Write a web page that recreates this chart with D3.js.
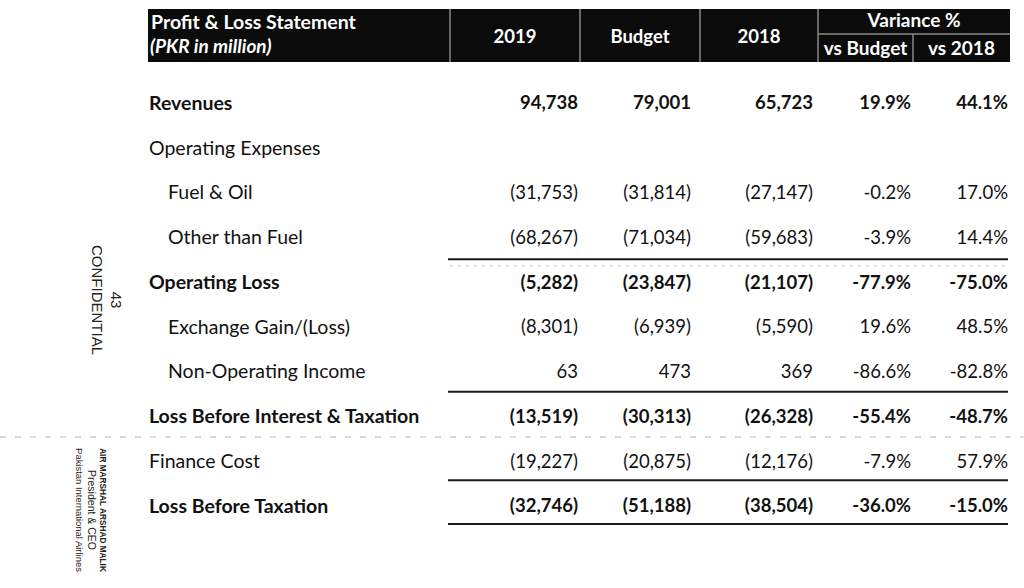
<!DOCTYPE html>
<html>
<head>
<meta charset="utf-8">
<script src="https://cdn.jsdelivr.net/npm/d3@7"></script>
<style>
  html, body { margin: 0; padding: 0; background: #fff; }
  svg { display: block; }
</style>
</head>
<body>
<svg id="chart" width="1024" height="588"></svg>
<script>
// ---- data ----
const categories = ["Revenues", "Operating Expenses", "Fuel & Oil", "Other than Fuel", "Operating Loss",
  "Exchange Gain/(Loss)", "Non-Operating Income", "Loss Before Interest & Taxation", "Finance Cost", "Loss Before Taxation"];
const boldRows = ["Revenues", "Operating Loss", "Loss Before Interest & Taxation", "Loss Before Taxation"];
const indentedRows = ["Fuel & Oil", "Other than Fuel", "Exchange Gain/(Loss)", "Non-Operating Income"];
const values2019 = [94738, null, -31753, -68267, -5282, -8301, 63, -13519, -19227, -32746];
const valuesBudget = [79001, null, -31814, -71034, -23847, -6939, 473, -30313, -20875, -51188];
const values2018 = [65723, null, -27147, -59683, -21107, -5590, 369, -26328, -12176, -38504];
const varVsBudget = [19.9, null, -0.2, -3.9, -77.9, 19.6, -86.6, -55.4, -7.9, -36.0];
const varVs2018 = [44.1, null, 17.0, 14.4, -75.0, 48.5, -82.8, -48.7, 57.9, -15.0];
const columnKeys = ["2019", "Budget", "2018", "vs Budget", "vs 2018"];
const headerTitle = ["Profit & Loss Statement", "(PKR in million)"];
const varianceTitle = "Variance %";
const ruledBelow = ["Other than Fuel", "Non-Operating Income", "Finance Cost", "Loss Before Taxation"];
const marginTop = ["43", "CONFIDENTIAL"];
const marginSign = ["AIR MARSHAL ARSHAD MALIK", "President & CEO", "Pakistan International Airlines"];

// ---- layout ----
const svg = d3.select("#chart");
const font = "Lato, 'Open Sans', sans-serif";
const tableLeft = 148, tableRight = 1010;
const colEdges = [450, 580, 700, 818, 913, 1010];
const headTop = 9, headMid = 34, headBottom = 62;

const yRow = d3.scalePoint().domain(categories).range([103, 506]);
const colLeft = d3.scaleOrdinal().domain(columnKeys).range(colEdges.slice(0, 5));
const colRight = d3.scaleOrdinal().domain(columnKeys).range(colEdges.slice(1));
const rightPad = d3.scaleOrdinal().domain(columnKeys).range([2, 9, 5, 2, 2]);

const locale = d3.formatLocale({ decimal: ".", thousands: ",", grouping: [3], currency: ["", ""], minus: "-" });
const fmtNum = locale.format(",");
const fmtPct = locale.format(".1f");
const num = v => v == null ? "" : (v < 0 ? "(" + fmtNum(-v) + ")" : fmtNum(v));
const pct = v => v == null ? "" : fmtPct(v) + "%";

// faint scan artefacts
svg.append("line").attr("x1", 0).attr("x2", 1024).attr("y1", 437).attr("y2", 437)
  .attr("stroke", "#9a9a9a").attr("stroke-width", 1).attr("stroke-dasharray", "6,9").attr("opacity", 0.7);
svg.append("line").attr("x1", 450).attr("x2", 1010).attr("y1", 266).attr("y2", 266)
  .attr("stroke", "#bbb").attr("stroke-width", 1).attr("stroke-dasharray", "3,5").attr("opacity", 0.7);

// header
const head = svg.append("g");
head.append("rect").attr("x", tableLeft).attr("y", headTop)
  .attr("width", tableRight - tableLeft).attr("height", headBottom - headTop).attr("fill", "#0b0b0b");
colEdges.slice(0, 5).forEach(x => {
  head.append("line").attr("x1", x).attr("x2", x).attr("y1", x === 913 ? headMid : headTop).attr("y2", headBottom)
    .attr("stroke", "#8a8a8a").attr("stroke-width", 1.5);
});
head.append("line").attr("x1", 818).attr("x2", tableRight).attr("y1", headMid).attr("y2", headMid)
  .attr("stroke", "#8a8a8a").attr("stroke-width", 1.5);

head.append("text").attr("x", 151).attr("y", 29).text(headerTitle[0])
  .attr("fill", "#fff").attr("font-family", font).attr("font-weight", 700).attr("font-size", 19.5);
head.append("text").attr("x", 150).attr("y", 53).text(headerTitle[1])
  .attr("fill", "#fff").attr("font-family", font).attr("font-weight", 700).attr("font-style", "italic").attr("font-size", 19);

["2019", "Budget", "2018"].forEach(k => {
  head.append("text").attr("x", (colLeft(k) + colRight(k)) / 2).attr("y", 43).text(k)
    .attr("text-anchor", "middle").attr("fill", "#fff").attr("font-family", font)
    .attr("font-weight", 700).attr("font-size", 18.5);
});
head.append("text").attr("x", (818 + tableRight) / 2).attr("y", 27).text(varianceTitle)
  .attr("text-anchor", "middle").attr("fill", "#fff").attr("font-family", font)
  .attr("font-weight", 700).attr("font-size", 19);
["vs Budget", "vs 2018"].forEach(k => {
  head.append("text").attr("x", (colLeft(k) + colRight(k)) / 2).attr("y", 55).text(k)
    .attr("text-anchor", "middle").attr("fill", "#fff").attr("font-family", font)
    .attr("font-weight", 700).attr("font-size", 19);
});

// rows
const rows = categories.map((c, i) => ({
  label: c,
  cells: [num(values2019[i]), num(valuesBudget[i]), num(values2018[i]), pct(varVsBudget[i]), pct(varVs2018[i])]
}));

const rowG = svg.append("g").selectAll("g").data(rows).join("g")
  .attr("transform", d => `translate(0,${yRow(d.label)})`);

rowG.append("text")
  .attr("x", d => indentedRows.includes(d.label) ? 168 : 149)
  .attr("dy", "0.35em")
  .attr("font-family", font).attr("font-size", 19.5)
  .attr("font-weight", d => boldRows.includes(d.label) ? 700 : 400)
  .attr("fill", "#111")
  .text(d => d.label);

rowG.selectAll("text.v").data(d => d.cells.map((t, j) => ({ t, key: columnKeys[j], bold: boldRows.includes(d.label) })))
  .join("text").attr("class", "v")
  .attr("x", d => colRight(d.key) - rightPad(d.key))
  .attr("dy", "0.35em")
  .attr("text-anchor", "end")
  .attr("font-family", font).attr("font-size", 18.5)
  .attr("font-weight", d => d.bold ? 700 : 400)
  .attr("fill", "#111")
  .text(d => d.t);

// rules
const ruleOffset = { "Other than Fuel": 22, "Non-Operating Income": 20, "Finance Cost": 19, "Loss Before Taxation": 18 };
svg.append("g").selectAll("line").data(ruledBelow).join("line")
  .attr("x1", 448).attr("x2", 1008)
  .attr("y1", d => yRow(d) + ruleOffset[d]).attr("y2", d => yRow(d) + ruleOffset[d])
  .attr("stroke", "#1a1a1a").attr("stroke-width", 2);

// margin texts (rotated)
const m1 = svg.append("g").attr("transform", "translate(111,300) rotate(90)");
m1.append("text").attr("y", 0).attr("text-anchor", "middle").text(marginTop[0])
  .attr("font-family", "'Liberation Sans', Arial, sans-serif").attr("font-size", 15).attr("fill", "#222");
m1.append("text").attr("y", 19).attr("text-anchor", "middle").text(marginTop[1])
  .attr("font-family", "'Liberation Sans', Arial, sans-serif").attr("font-size", 15).attr("fill", "#222");

const m2 = svg.append("g").attr("transform", "translate(100,510) rotate(90)");
marginSign.forEach((t, i) => {
  const txt = m2.append("text").attr("y", i * 12).attr("text-anchor", "middle").text(t)
    .attr("font-family", "'Liberation Sans Narrow', 'Liberation Sans', Arial, sans-serif")
    .attr("font-size", 11).attr("font-weight", i === 0 ? 700 : 400)
    .attr("fill", "#222");
  const maxLen = i === 1 ? 80 : 124;
  const w = txt.node().getComputedTextLength();
  if (w > maxLen) txt.attr("font-size", 11 * maxLen / w);
});
</script>
</body>
</html>
